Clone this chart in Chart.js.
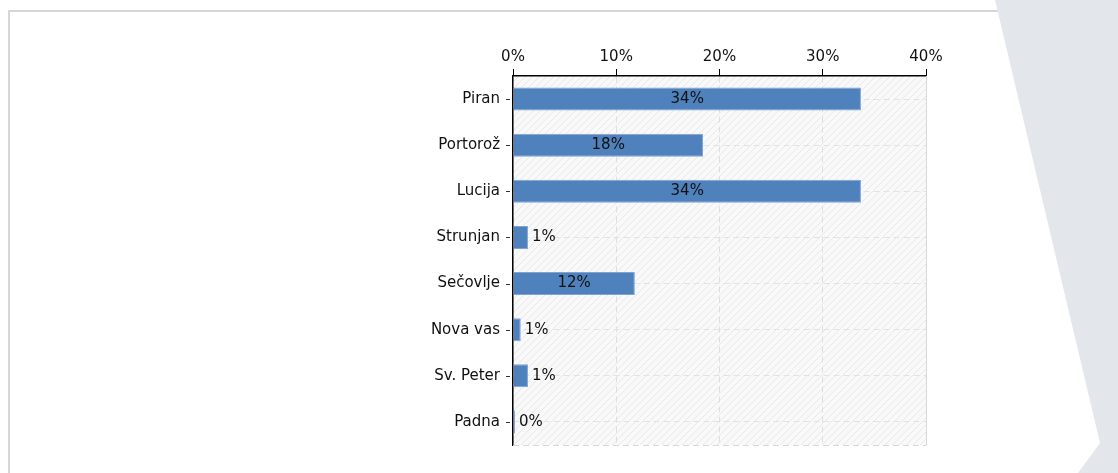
<!DOCTYPE html>
<html>
<head>
<meta charset="utf-8">
<script src="https://cdn.jsdelivr.net/npm/chart.js@4/dist/chart.umd.min.js"></script>
<style>
  html, body { margin: 0; padding: 0; background: #fff; }
  body { width: 1118px; height: 473px; position: relative; overflow: hidden; font-family: "DejaVu Sans", sans-serif; }
  #frame { position: absolute; left: 8px; top: 10px; width: 1200px; height: 500px; border-left: 2px solid #d6d6d6; border-top: 2px solid #d6d6d6; }
  #shape { position: absolute; left: 0; top: 0; width: 1118px; height: 473px; background: #e3e6ea;
           clip-path: polygon(995px 0, 1118px 0, 1118px 473px, 1078px 473px, 1100px 443px); }
  #chart { position: absolute; left: 0; top: 0; }
</style>
</head>
<body>
<div id="frame"></div>
<div id="shape"></div>
<canvas id="chart" width="1118" height="473"></canvas>
<script>
// podatki
const categories = ['Piran', 'Portorož', 'Lucija', 'Strunjan', 'Sečovlje', 'Nova vas', 'Sv. Peter', 'Padna'];
const shares = [33.7, 18.4, 33.7, 1.45, 11.8, 0.75, 1.45, 0.2];
const shareLabels = ['34%', '18%', '34%', '1%', '12%', '1%', '1%', '0%'];
const xTicks = [0, 10, 20, 30, 40];

const FONT = { family: '"DejaVu Sans", sans-serif', size: 15 };

// srafura ozadja
function makeHatch(ctx) {
    const c = document.createElement('canvas');
    c.width = 7; c.height = 7;
    const p = c.getContext('2d');
    p.fillStyle = '#f9f9f9';
    p.fillRect(0, 0, 7, 7);
    p.strokeStyle = '#e8e8e8';
    p.lineWidth = 1;
    p.beginPath();
    p.moveTo(-1, 8); p.lineTo(8, -1);
    p.moveTo(-1, 1); p.lineTo(1, -1);
    p.moveTo(6, 8); p.lineTo(8, 6);
    p.stroke();
    return ctx.createPattern(c, 'repeat');
}

const decorPlugin = {
    id: 'decor',
    beforeDraw(chart) {
        const { ctx, chartArea: a } = chart;
        ctx.save();
        ctx.fillStyle = makeHatch(ctx);
        ctx.fillRect(a.left, a.top, a.right - a.left, a.bottom - a.top);
        ctx.restore();
    },
    afterDatasetsDraw(chart) {
        const { ctx, chartArea: a } = chart;
        const yScale = chart.scales.y;
        ctx.save();
        // desni in spodnji rob
        ctx.strokeStyle = '#d8d8d8';
        ctx.lineWidth = 1;
        ctx.beginPath();
        ctx.moveTo(a.right + 0.5, a.top);
        ctx.lineTo(a.right + 0.5, a.bottom);
        ctx.stroke();
        ctx.setLineDash([6, 4]);
        ctx.beginPath();
        ctx.moveTo(a.left, a.bottom + 0.5);
        ctx.lineTo(a.right, a.bottom + 0.5);
        ctx.stroke();
        ctx.setLineDash([]);
        // oznake na osi y
        ctx.strokeStyle = '#333';
        categories.forEach((c, i) => {
            const y = Math.round(yScale.getPixelForValue(i)) + 0.5;
            ctx.beginPath();
            ctx.moveTo(a.left - 7, y);
            ctx.lineTo(a.left - 3, y);
            ctx.stroke();
        });
        // vrednosti
        ctx.font = '15px "DejaVu Sans", sans-serif';
        ctx.fillStyle = '#111';
        ctx.textBaseline = 'middle';
        const meta = chart.getDatasetMeta(0);
        meta.data.forEach((bar, i) => {
            const txt = shareLabels[i];
            const w = ctx.measureText(txt).width;
            const barW = bar.x - bar.base;
            if (barW > w + 10) {
                ctx.textAlign = 'center';
                ctx.fillText(txt, (bar.x + bar.base) / 2, bar.y);
            } else {
                ctx.textAlign = 'left';
                ctx.fillText(txt, bar.x + 4, bar.y);
            }
        });
        ctx.restore();
    }
};

new Chart(document.getElementById('chart'), {
    type: 'bar',
    data: {
        labels: categories,
        datasets: [{
            data: shares,
            backgroundColor: '#4f81bd',
            borderColor: '#7ea4d4',
            borderWidth: 1,
            barPercentage: 0.5,
            categoryPercentage: 1.0
        }]
    },
    options: {
        indexAxis: 'y',
        responsive: false,
        animation: false,
        layout: { padding: { left: 0, top: 0, right: 192, bottom: 28 } },
        plugins: { legend: { display: false }, tooltip: { enabled: false } },
        scales: {
            x: {
                position: 'top',
                min: xTicks[0],
                max: xTicks[xTicks.length - 1],
                afterBuildTicks(scale) { scale.ticks = xTicks.map(v => ({ value: v })); },
                afterFit(scale) { scale.height = 76; },
                ticks: { color: '#111', font: FONT, padding: 3, callback: v => v + '%' },
                grid: { color: '#dedede', tickLength: 7, tickColor: '#000', tickWidth: 1, tickBorderDash: [] },
                border: { color: '#000', width: 1.5, dash: [6, 4] }
            },
            y: {
                afterFit(scale) { scale.width = 513; },
                ticks: { color: '#111', font: FONT, padding: 13 },
                grid: { color: '#e2e2e2', offset: false, drawTicks: false },
                border: { color: '#000', width: 1.5, dash: [6, 4] }
            }
        }
    },
    plugins: [decorPlugin]
});
</script>
</body>
</html>
